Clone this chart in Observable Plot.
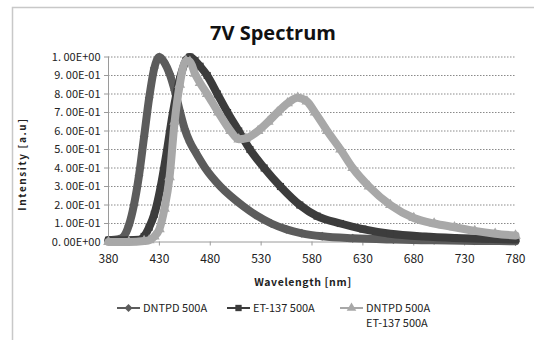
<!DOCTYPE html>
<html>
<head>
<meta charset="utf-8">
<script src="https://cdn.jsdelivr.net/npm/d3@7"></script>
<script src="https://cdn.jsdelivr.net/npm/@observablehq/plot@0.6"></script>
<style>
  html, body { margin: 0; padding: 0; background: #fff; }
  #chart { position: relative; width: 534px; height: 340px; overflow: hidden; }
</style>
</head>
<body>
<div id="chart"></div>
<script>
const title = "7V Spectrum";
const xLabel = "Wavelength [nm]";
const yLabel = "Intensity [a.u]";
const seriesNames = ["DNTPD 500A", "ET-137 500A", "DNTPD 500A\nET-137 500A"];

const xTicks = [380, 430, 480, 530, 580, 630, 680, 730, 780];
const yTicks = [0, 0.1, 0.2, 0.3, 0.4, 0.5, 0.6, 0.7, 0.8, 0.9, 1.0];
const yTickLabels = ["0. 00E+00", "1. 00E-01", "2. 00E-01", "3. 00E-01", "4. 00E-01", "5. 00E-01",
  "6. 00E-01", "7. 00E-01", "8. 00E-01", "9. 00E-01", "1. 00E+00"];

const dntpdNm = [380,390,395,400,405,410,415,420,425,430,435,440,445,450,455,460,465,475,490,500,512,525,540,555,570,590,620,660,700,740,780];
const dntpdI  = [0.01,0.015,0.03,0.09,0.2,0.36,0.57,0.78,0.94,1.0,0.97,0.91,0.82,0.71,0.61,0.54,0.49,0.4,0.3,0.248,0.195,0.145,0.1,0.068,0.047,0.031,0.02,0.013,0.009,0.006,0.004];

const etNm = [380,400,410,415,420,425,431,437,443,450,456,460,465,470,477,487,497,508,519,533,549,568,585,608,630,657,690,720,750,780];
const etI  = [0.01,0.01,0.012,0.03,0.08,0.15,0.29,0.48,0.69,0.88,0.98,1.0,0.98,0.95,0.9,0.8,0.7,0.6,0.5,0.4,0.3,0.2,0.14,0.1,0.07,0.045,0.03,0.022,0.017,0.013];

const mixNm = [380,400,415,420,425,430,435,440,445,450,456,460,465,470,477,488,500,508,515,527,537,546,556,566,575,583,595,608,620,636,657,680,700,720,740,760,780];
const mixI  = [0,0,0.005,0.01,0.03,0.07,0.18,0.35,0.65,0.85,0.98,0.975,0.91,0.86,0.8,0.7,0.6,0.555,0.56,0.6,0.65,0.7,0.75,0.78,0.76,0.7,0.6,0.5,0.4,0.3,0.2,0.13,0.1,0.08,0.06,0.045,0.035];

const colors = ["#5c5c5c", "#3c3c3c", "#a8a8a8"];
const symbols = ["diamond2", "square", "triangle"];

const series = [
  {name: seriesNames[0], nm: dntpdNm, v: dntpdI},
  {name: seriesNames[1], nm: etNm, v: etI},
  {name: seriesNames[2], nm: mixNm, v: mixI}
];
const rows = s => s.nm.map((n, i) => ({nm: n, v: s.v[i]}));

const marks = [
  Plot.gridY(yTicks.filter(d => d > 0), {stroke: "#8a8a8a", strokeOpacity: 1, strokeDasharray: "1.5,1.5", strokeWidth: 1}),
  Plot.ruleY([0], {stroke: "#9a9a9a"}),
  Plot.ruleX([380], {stroke: "#9a9a9a"}),
  Plot.axisY({ticks: yTicks, tickFormat: d => yTickLabels[Math.round(d * 10)], tickSize: 4, tickPadding: 4,
    fontSize: 11, color: "#222", stroke: "#9a9a9a", label: null}),
  Plot.axisX({ticks: xTicks, tickFormat: d => String(d), tickSize: 4, tickPadding: 8,
    fontSize: 12, color: "#222", stroke: "#9a9a9a", label: null})
];
series.forEach((s, k) => {
  marks.push(Plot.line(rows(s), {x: "nm", y: "v", stroke: colors[k], strokeWidth: 8, curve: "monotone-x", strokeLinejoin: "round", strokeLinecap: "round"}));
  marks.push(Plot.dot(rows(s), {x: "nm", y: "v", fill: colors[k], symbol: symbols[k], r: 4}));
});

const plot = Plot.plot({
  width: 534, height: 340,
  marginLeft: 108, marginRight: 19, marginTop: 56.5, marginBottom: 98.5,
  x: {domain: [380, 780]},
  y: {domain: [0, 1]},
  style: {fontFamily: "'Noto Sans CJK KR', 'Noto Sans', sans-serif", background: "transparent"},
  marks
});
document.getElementById("chart").appendChild(plot);

const svg = d3.select(plot);
// outer chart frame
svg.insert("rect", ":first-child").attr("x", 12.5).attr("y", 7.5).attr("width", 540).attr("height", 350)
  .attr("fill", "#fff").attr("stroke", "#c8c8c8").attr("stroke-width", 1.5);

svg.append("text").attr("x", 273).attr("y", 40).attr("text-anchor", "middle")
  .attr("font-family", "'Open Sans', 'Noto Sans', sans-serif").attr("font-weight", "bold")
  .attr("font-size", 20).attr("fill", "#111").text(title);

svg.append("text").attr("transform", "translate(26,164) rotate(-90)").attr("text-anchor", "middle")
  .attr("font-family", "'Noto Sans CJK KR', sans-serif").attr("font-weight", "bold")
  .attr("font-size", 10).attr("letter-spacing", "1.6").attr("fill", "#222").text(yLabel);

svg.append("text").attr("x", 303).attr("y", 286).attr("text-anchor", "middle")
  .attr("font-family", "'Noto Sans CJK KR', sans-serif").attr("font-weight", "bold")
  .attr("font-size", 10.5).attr("letter-spacing", "0.6").attr("fill", "#222").text(xLabel);

// legend
const legendX = [117, 227, 340];
const legendY = 308;
const sym = d3.symbol().size(40);
const d3syms = [d3.symbolDiamond2, d3.symbolSquare, d3.symbolTriangle];
series.forEach((s, k) => {
  const g = svg.append("g").attr("transform", `translate(${legendX[k]},${legendY})`);
  g.append("line").attr("x1", 0).attr("x2", 23).attr("y1", 0).attr("y2", 0)
    .attr("stroke", colors[k]).attr("stroke-width", 2);
  g.append("path").attr("transform", "translate(11.5,0)").attr("d", sym.type(d3syms[k])()).attr("fill", colors[k]);
  s.name.split("\n").forEach((line, i) => {
    g.append("text").attr("x", 26).attr("y", 4 + i * 15).attr("text-anchor", "start")
      .attr("font-family", "'Noto Sans CJK KR', sans-serif").attr("font-size", 11).attr("fill", "#222")
      .text(line);
  });
});
</script>
</body>
</html>
